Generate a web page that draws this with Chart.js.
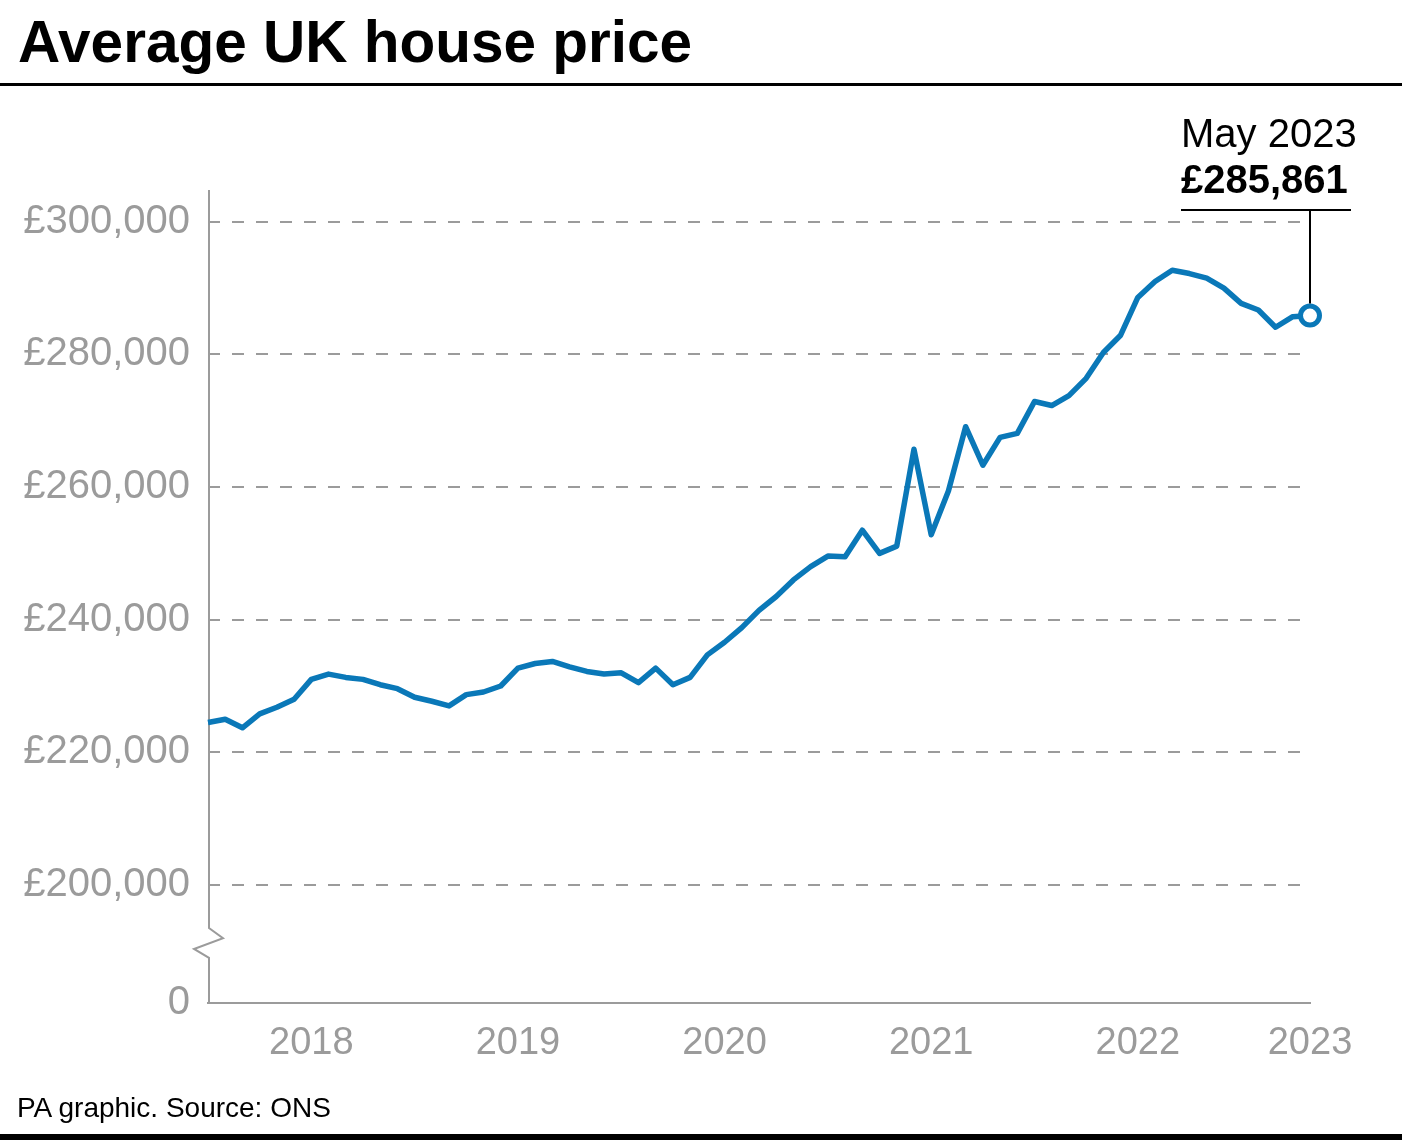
<!DOCTYPE html>
<html>
<head>
<meta charset="utf-8">
<script src="https://cdn.jsdelivr.net/npm/chart.js@4.4.0/dist/chart.umd.min.js"></script>
<style>
  html, body { margin: 0; padding: 0; background: #fff; }
  #wrap { position: relative; width: 1402px; height: 1142px; overflow: hidden; font-family: "Liberation Sans", Arial, sans-serif; }
  #title { position: absolute; left: 18px; top: 13px; font-size: 58.5px; font-weight: bold; line-height: 1; color: #000; white-space: nowrap; }
  #topRule { position: absolute; left: 0; top: 83px; width: 1402px; height: 3px; background: #000; }
  #source { position: absolute; left: 17px; top: 1094px; font-size: 28px; line-height: 1; color: #000; white-space: nowrap; }
  #bottomRule { position: absolute; left: 0; top: 1134px; width: 1402px; height: 6px; background: #000; }
  #chartBox { position: absolute; left: 0; top: 0; width: 1402px; height: 1142px; }
</style>
</head>
<body>
<div id="wrap">
  <div id="chartBox"><canvas id="priceChart"></canvas></div>
  <div id="title">Average UK house price</div>
  <div id="topRule"></div>
  <div id="source">PA graphic. Source: ONS</div>
  <div id="bottomRule"></div>
</div>
<script>
// Dados: preço médio mensal, jan 2018 a mai 2023
const years = ['2018', '2019', '2020', '2021', '2022', '2023'];
const monthNames = ['Jan', 'Feb', 'Mar', 'Apr', 'May', 'Jun', 'Jul', 'Aug', 'Sep', 'Oct', 'Nov', 'Dec'];

const prices2018 = [224500, 225000, 223700, 225800, 226800, 228000, 231000, 231800, 231300, 231000, 230200, 229600];
const prices2019 = [228300, 227700, 227000, 228700, 229100, 230000, 232700, 233400, 233700, 232900, 232200, 231800];
const prices2020 = [232000, 230500, 232700, 230200, 231300, 234700, 236600, 238800, 241400, 243500, 246000, 248000];
const prices2021 = [249600, 249500, 253500, 250000, 251100, 265700, 252800, 259400, 269100, 263300, 267500, 268100];
const prices2022 = [272900, 272300, 273800, 276400, 280300, 282900, 288600, 291000, 292700, 292200, 291500, 290000];
const prices2023 = [287700, 286700, 284100, 285700, 285861];

const yTickValues = [200000, 220000, 240000, 260000, 280000, 300000];
const yAxisBottom = 182200;   // valor mostrado como "0" (eixo quebrado)
const yAxisTop = 304800;
const breakHigh = 193500;     // início da quebra do eixo
const breakLow = 189000;

const latestLabel = 'May 2023';
const latestValue = '£285,861';

const prices = [...prices2018, ...prices2019, ...prices2020, ...prices2021, ...prices2022, ...prices2023];
const months = [];
years.forEach(y => monthNames.forEach(m => { if (months.length < prices.length) months.push(m + ' ' + y); }));

const lastIdx = prices.length - 1;
const blue = '#0a78b8';
const grey = '#9b9b9b';

Chart.defaults.font.family = '"Liberation Sans", Arial, sans-serif';

// eixo Y desenhado à mão por causa da quebra
const axisBreak = {
    id: 'axisBreak',
    beforeDatasetsDraw(chart) {
        const { ctx, chartArea } = chart;
        const ys = chart.scales.y;
        const x0 = chartArea.left + 1;
        const yA = ys.getPixelForValue(breakHigh);
        const yB = ys.getPixelForValue(breakLow);
        const h = yB - yA;
        ctx.save();
        ctx.strokeStyle = grey;
        ctx.lineWidth = 2;
        ctx.beginPath();
        ctx.moveTo(x0, chartArea.top);
        ctx.lineTo(x0, yA);
        ctx.lineTo(x0 + 14, yA + h * 0.34);
        ctx.lineTo(x0 - 15, yA + h * 0.7);
        ctx.lineTo(x0, yB);
        ctx.lineTo(x0, chartArea.bottom);
        ctx.stroke();
        ctx.restore();
    }
};

// rótulo do último ponto
const latestNote = {
    id: 'latestNote',
    afterDatasetsDraw(chart) {
        const { ctx, chartArea } = chart;
        const pt = chart.getDatasetMeta(0).data[lastIdx];
        const ruleY = chartArea.top + 20;
        const left = pt.x - 129;
        ctx.save();
        ctx.strokeStyle = '#000';
        ctx.lineWidth = 2;
        ctx.beginPath();
        ctx.moveTo(left, ruleY);
        ctx.lineTo(pt.x + 41, ruleY);
        ctx.moveTo(pt.x, ruleY);
        ctx.lineTo(pt.x, pt.y - 12);
        ctx.stroke();
        ctx.fillStyle = '#000';
        ctx.textBaseline = 'alphabetic';
        ctx.textAlign = 'left';
        ctx.font = '40px "Liberation Sans", Arial, sans-serif';
        ctx.fillText(latestLabel, left, chartArea.top - 43);
        ctx.font = 'bold 40px "Liberation Sans", Arial, sans-serif';
        ctx.fillText(latestValue, left, chartArea.top + 3);
        ctx.restore();
    }
};

const ctx = document.getElementById('priceChart').getContext('2d');
const priceChart = new Chart(ctx, {
    type: 'line',
    data: {
        labels: months,
        datasets: [{
            label: 'Average UK house price',
            data: prices,
            borderColor: blue,
            borderWidth: 5.5,
            borderJoinStyle: 'round',
            tension: 0,
            fill: false,
            clip: false,
            pointRadius: c => c.dataIndex === lastIdx ? 9.5 : 0,
            pointHoverRadius: c => c.dataIndex === lastIdx ? 9.5 : 0,
            pointBorderWidth: 5,
            pointBorderColor: blue,
            pointBackgroundColor: '#fff'
        }]
    },
    options: {
        responsive: true,
        maintainAspectRatio: false,
        animation: false,
        events: [],
        layout: { padding: { top: 190, right: 92, left: 0, bottom: 0 } },
        plugins: { legend: { display: false }, tooltip: { enabled: false } },
        scales: {
            x: {
                grid: { display: false, drawTicks: false },
                border: { display: true, color: grey, width: 2 },
                ticks: {
                    autoSkip: false,
                    maxRotation: 0,
                    minRotation: 0,
                    padding: 18,
                    color: grey,
                    font: { size: 38 },
                    callback: (v, i) => {
                        const lab = months[i];
                        if (lab.startsWith('Jul')) return lab.slice(4);
                        if (i === lastIdx) return lab.slice(4);
                        return '';
                    }
                },
                afterFit: s => { s.height = 139; }
            },
            y: {
                min: yAxisBottom,
                max: yAxisTop,
                afterBuildTicks: s => { s.ticks = [yAxisBottom, ...yTickValues].map(v => ({ value: v })); },
                grid: {
                    drawTicks: false,
                    lineWidth: 2,
                    color: c => (c.tick && c.tick.value === yAxisBottom) ? 'rgba(0,0,0,0)' : grey
                },
                border: { display: false, dash: [12, 12] },
                ticks: {
                    padding: 18,
                    color: grey,
                    font: { size: 40 },
                    callback: v => v === yAxisBottom ? '0' : '£' + v.toLocaleString('en-GB')
                },
                afterFit: s => { s.width = 208; }
            }
        }
    },
    plugins: [axisBreak, latestNote]
});
</script>
</body>
</html>
